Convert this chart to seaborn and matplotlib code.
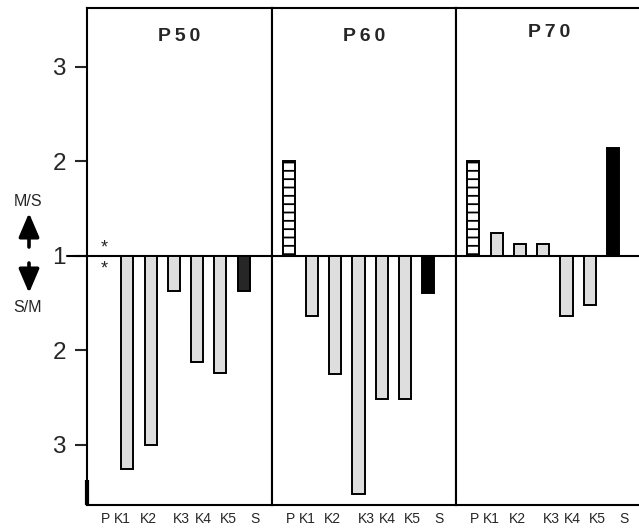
import numpy as np
import matplotlib
matplotlib.use("Agg")
import matplotlib.pyplot as plt
import seaborn as sns

# ratios: positive = M/S (up), negative = S/M (down), nan = no bar
panels = ["P50", "P60", "P70"]
genes = ["P", "K1", "K2", "K3", "K4", "K5", "S"]
p50 = [np.nan, -3.25, -3.0, -1.37, -2.12, -2.24, -1.37]
p60 = [2.0, -1.63, -2.25, -3.52, -2.51, -2.51, -1.39]
p70 = [2.0, 1.24, 1.13, 1.13, -1.63, -1.52, 2.14]
ytick_vals = [2, 1, 0, -1, -2]
ytick_labels = ["3", "2", "1", "2", "3"]

# small layout shifts of the x labels relative to the bars (as in the original figure)
label_shift = [0.06, -0.21, -0.11, 0.34, 0.26, 0.32, 0.47]
title_y = [0.943, 0.943, 0.950]
s_color = ["#262626", "#000000", "#000000"]


def to_dev(ratios):
    r = np.array(ratios, dtype=float)
    d = np.sign(r) * (np.abs(r) - 1)
    return np.nan_to_num(d, nan=0.0)


sns.set_style("ticks")
plt.rcParams["font.family"] = ["Liberation Sans", "DejaVu Sans"]
plt.rcParams["hatch.linewidth"] = 1.3
plt.rcParams["axes.edgecolor"] = "black"

fig, axes = plt.subplots(1, 3, figsize=(6.39, 5.29), dpi=100, sharey=True)
fig.subplots_adjust(left=87 / 639, right=641 / 639, bottom=24 / 529, top=521 / 529, wspace=0)

for i, (ax, name, vals) in enumerate(zip(axes, panels, [p50, p60, p70])):
    dev = to_dev(vals)
    colors = ["white"] + ["#dedede"] * 5 + [s_color[i]]
    sns.barplot(x=genes, y=dev, hue=genes, palette=dict(zip(genes, colors)),
                saturation=1, width=0.52, edgecolor="black", linewidth=1.4,
                legend=False, ax=ax)
    ax.patches[0].set_hatch("--")

    ax.axhline(0, color="black", lw=1.5, zorder=0.5)
    ax.set_xlim(-0.73, 7.2)
    ax.set_ylim(-2.635, 2.624)
    ax.set_xticks(np.arange(len(genes)) + np.array(label_shift), genes)
    ax.tick_params(axis="x", length=0, pad=5, labelsize=10)
    for sp in ax.spines.values():
        sp.set_linewidth(1.5)
        sp.set_visible(True)
    ax.text(0.5, title_y[i], "\u2009".join(name), transform=ax.transAxes,
            ha="center", va="center", fontsize=14, fontweight="bold")
    if i > 0:
        ax.tick_params(axis="y", left=False)

ax0 = axes[0]
ax0.set_yticks(ytick_vals, ytick_labels)
ax0.tick_params(axis="y", length=8.6, width=1.5, pad=6.5, labelsize=17.5, direction="out")
ax0.axhline(0, xmin=-0.108, xmax=0, color="black", lw=1.5, clip_on=False)
ax0.plot([0, 0], [0, 25 / 497], transform=ax0.transAxes, color="black", lw=3,
         clip_on=False, solid_capstyle="butt")

# significance marks at P in P50
ax0.text(0, 0.04, "*", ha="center", va="baseline", fontsize=13)
ax0.text(0, -0.19, "*", ha="center", va="baseline", fontsize=13)

# direction legend on the left
fig.text(28 / 639, 1 - 201 / 529, "M/S", ha="center", va="center", fontsize=11.5)
fig.text(28 / 639, 1 - 308 / 529, "S/M", ha="center", va="center", fontsize=11.5)
arrow = dict(arrowstyle="-|>,head_length=1.45,head_width=0.62", color="black", lw=2.6,
             mutation_scale=10, shrinkA=0, shrinkB=0)
ax0.annotate("", xy=(29, 529 - 213), xytext=(29, 529 - 247),
             xycoords="figure pixels", textcoords="figure pixels", arrowprops=arrow)
ax0.annotate("", xy=(29, 529 - 293), xytext=(29, 529 - 263),
             xycoords="figure pixels", textcoords="figure pixels", arrowprops=arrow)

fig.savefig("out.png", dpi=100)
